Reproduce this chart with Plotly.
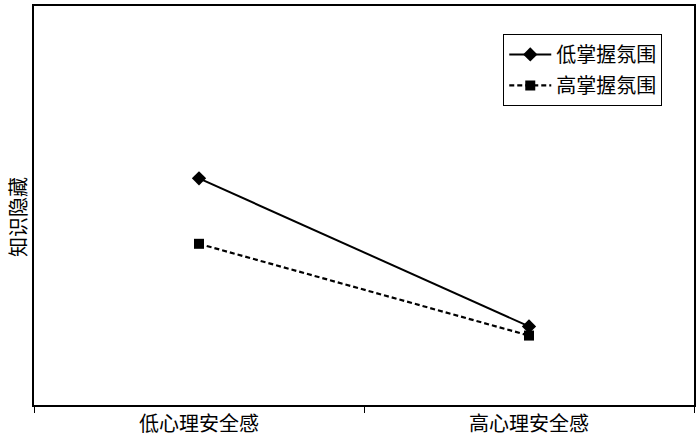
import plotly.graph_objects as go

categories = ["低心理安全感", "高心理安全感"]
low_mastery = [2.84, 0.985]
high_mastery = [2.02, 0.87]
series_names = ["低掌握氛围", "高掌握氛围"]
y_title = "知识隐藏"

FONT = "Noto Sans CJK SC"

fig = go.Figure()
fig.add_trace(go.Scatter(
    x=categories, y=low_mastery, name=series_names[0], mode="lines+markers",
    line=dict(color="black", width=2, dash="solid"),
    marker=dict(symbol="diamond", size=11, color="black"),
    legendgroup="a"))
fig.add_trace(go.Scatter(
    x=categories, y=high_mastery, name=series_names[1], mode="lines+markers",
    line=dict(color="black", width=2.2, dash="5px,3px"),
    marker=dict(symbol="square", size=10, color="black"),
    legendgroup="b"))

fig.update_layout(
    width=700, height=441,
    margin=dict(l=34, r=4, t=4, b=36),
    paper_bgcolor="white", plot_bgcolor="white",
    font=dict(family=FONT, size=20, color="black"),
    showlegend=True,
    legend=dict(x=0.711, y=0.93, xanchor="left", yanchor="top",
                bordercolor="black", borderwidth=1, bgcolor="white",
                font=dict(size=20), itemwidth=42, tracegroupgap=2),
)
fig.update_xaxes(
    type="category", range=[-0.5, 1.5],
    showline=True, linecolor="black", linewidth=1.5, mirror=True,
    ticks="outside", tickson="boundaries", ticklen=6, tickcolor="black",
    showgrid=False, tickfont=dict(size=20, family=FONT),
)
fig.update_yaxes(
    range=[0, 5], showline=True, linecolor="black", linewidth=1.5, mirror=True,
    showticklabels=False, ticks="", showgrid=False, zeroline=False,
)
fig.add_annotation(
    text=y_title, textangle=-90, xref="paper", yref="paper",
    x=-0.026, y=0.471, xanchor="center", yanchor="middle",
    showarrow=False, font=dict(size=20, family=FONT),
)
fig.write_html("out.html", config={"displayModeBar": False},
               post_script="document.body.style.margin='0';")
